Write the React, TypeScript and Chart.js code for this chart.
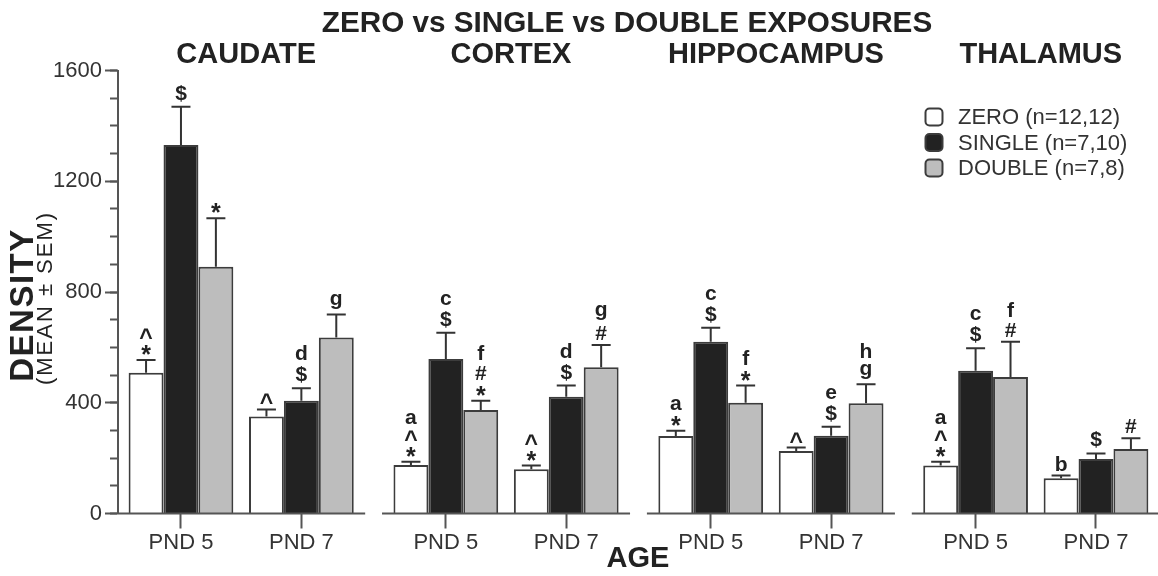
import React, { useEffect, useRef } from 'react';
import { Chart, registerables } from 'chart.js';

Chart.register(...registerables);

const FONT = "'Liberation Sans', Arial, Helvetica, sans-serif";

// ---------- data ----------
const chartTitle = 'ZERO vs SINGLE vs DOUBLE EXPOSURES';
const regions = ['CAUDATE', 'CORTEX', 'HIPPOCAMPUS', 'THALAMUS'];
const ages = ['PND 5', 'PND 7'];
const seriesLabels = ['ZERO (n=12,12)', 'SINGLE (n=7,10)', 'DOUBLE (n=7,8)'];
const yTitle = 'DENSITY';
const ySubTitle = '(MEAN \u00B1 SEM)';
const xTitle = 'AGE';

// order: caudate P5, caudate P7, cortex P5, cortex P7, hippocampus P5, hippocampus P7, thalamus P5, thalamus P7
const zeroMeans = [508, 350, 175, 160, 280, 226, 173, 127];
const zeroSem = [46, 26, 12, 13, 19, 12, 14, 10];
const singleMeans = [1331, 407, 558, 422, 620, 281, 516, 197];
const singleSem = [138, 45, 95, 40, 51, 32, 81, 20];
const doubleMeans = [891, 636, 374, 528, 400, 398, 493, 233];
const doubleSem = [175, 83, 33, 81, 62, 69, 127, 39];

// significance marks, listed from the bottom up
const zeroMarks = [['*', '^'], ['^'], ['*', '^', 'a'], ['*', '^'], ['*', 'a'], ['^'], ['*', '^', 'a'], ['b']];
const singleMarks = [['$'], ['$', 'd'], ['$', 'c'], ['$', 'd'], ['$', 'c'], ['$', 'e'], ['$', 'c'], ['$']];
const doubleMarks = [['*'], ['g'], ['*', '#', 'f'], ['#', 'g'], ['*', 'f'], ['g', 'h'], ['#', 'f'], ['#']];

const yMajorStep = 400;
const yMinorStep = 100;
const yMax = 1600;

// ---------- styling / layout ----------
const COLORS = ['#ffffff', '#222222', '#bdbdbd'];
const OUTLINE = '#3c3c3c';
const AXIS = '#555555';
const TEXT = '#222222';
const PANEL_STEP = 2.2;
const xPositions = regions.flatMap((_, p) => ages.map((_, g) => p * PANEL_STEP + g));

const semSets = [zeroSem, singleSem, doubleSem];
const markSets = [zeroMarks, singleMarks, doubleMarks];
const markSize = (s: string) => (s === '*' ? 25 : s === '^' ? 23 : 21);

const decorPlugin = {
  id: 'decor',
  afterDatasetsDraw(chart: any) {
    const { ctx, chartArea } = chart;
    const x = chart.scales.x;
    const y = chart.scales.y;
    const y0 = y.getPixelForValue(0);
    ctx.save();
    // broken baseline, one segment per panel
    ctx.strokeStyle = AXIS;
    ctx.lineWidth = 2;
    regions.forEach((_, p) => {
      const start = p === 0 ? chartArea.left : x.getPixelForValue(p * PANEL_STEP - 0.53);
      const end = x.getPixelForValue(p * PANEL_STEP + 1.53);
      ctx.beginPath();
      ctx.moveTo(start, y0);
      ctx.lineTo(end, y0);
      ctx.stroke();
    });
    // error bars and marks
    chart.data.datasets.forEach((ds: any, i: number) => {
      const meta = chart.getDatasetMeta(i);
      meta.data.forEach((bar: any, j: number) => {
        const v = ds.data[j].y;
        const topPx = y.getPixelForValue(v + semSets[i][j]);
        ctx.strokeStyle = '#333';
        ctx.lineWidth = 2;
        ctx.beginPath();
        ctx.moveTo(bar.x, bar.y);
        ctx.lineTo(bar.x, topPx);
        ctx.moveTo(bar.x - 9.5, topPx);
        ctx.lineTo(bar.x + 9.5, topPx);
        ctx.stroke();
        ctx.fillStyle = TEXT;
        ctx.textAlign = 'center';
        ctx.textBaseline = 'alphabetic';
        let bottom = topPx - 5;
        markSets[i][j].forEach((s: string) => {
          ctx.font = `bold ${markSize(s)}px ${FONT}`;
          const m = ctx.measureText(s);
          const base = bottom - m.actualBoundingBoxDescent;
          ctx.fillText(s, bar.x, base);
          bottom = base - m.actualBoundingBoxAscent - 6;
        });
      });
    });
    ctx.restore();
  },
  afterDraw(chart: any) {
    const { ctx, chartArea } = chart;
    const x = chart.scales.x;
    ctx.save();
    ctx.fillStyle = TEXT;
    ctx.textAlign = 'center';
    ctx.textBaseline = 'alphabetic';
    ctx.font = `bold 29.7px ${FONT}`;
    ctx.fillText(chartTitle, (chartArea.left + chartArea.right) / 2 - 11, 32);
    ctx.font = `bold 29px ${FONT}`;
    regions.forEach((r, p) => {
      const c = x.getPixelForValue(p * PANEL_STEP + 0.5);
      ctx.fillText(r, c + 5, 63);
    });
    // y titles
    ctx.save();
    ctx.translate(24, 305);
    ctx.rotate(-Math.PI / 2);
    ctx.textBaseline = 'middle';
    ctx.font = `bold 33px ${FONT}`;
    (ctx as any).letterSpacing = '1.5px';
    ctx.fillText(yTitle, 0, 0);
    ctx.restore();
    ctx.save();
    ctx.translate(46, 298);
    ctx.rotate(-Math.PI / 2);
    ctx.textBaseline = 'middle';
    ctx.font = `22px ${FONT}`;
    (ctx as any).letterSpacing = '2px';
    ctx.fillText(ySubTitle, 0, 0);
    ctx.restore();
    // legend
    ctx.textAlign = 'left';
    ctx.textBaseline = 'middle';
    ctx.font = `22px ${FONT}`;
    chart.data.datasets.forEach((ds: any, i: number) => {
      const cy = 117 + i * 25.5;
      ctx.beginPath();
      (ctx as any).roundRect(925.5, cy - 8.5, 17, 17, 4);
      ctx.fillStyle = ds.backgroundColor;
      ctx.fill();
      ctx.strokeStyle = OUTLINE;
      ctx.lineWidth = 2;
      ctx.stroke();
      ctx.fillStyle = '#333';
      ctx.fillText(ds.label, 958, cy + 1);
    });
    ctx.restore();
  },
};

export default function App() {
  const ref = useRef<HTMLCanvasElement>(null);
  useEffect(() => {
    if (!ref.current) return;
    const datasets = [zeroMeans, singleMeans, doubleMeans].map((means, i) => ({
      label: seriesLabels[i],
      data: means.map((v, j) => ({ x: xPositions[j], y: v })),
      backgroundColor: COLORS[i],
      borderColor: OUTLINE,
      borderWidth: 2,
      categoryPercentage: 0.87,
      barPercentage: 1,
    }));
    const chart = new Chart(ref.current, {
      type: 'bar',
      data: { datasets },
      plugins: [decorPlugin],
      options: {
        responsive: false,
        animation: false,
        events: [],
        layout: { padding: { top: 70.5, left: 0, right: 0, bottom: 0 } },
        plugins: { legend: { display: false }, tooltip: { enabled: false }, title: { display: false } },
        scales: {
          x: {
            type: 'linear',
            min: -0.523,
            max: 8.115,
            offset: false,
            afterBuildTicks: (s: any) => {
              s.ticks = xPositions.map((v) => ({ value: v }));
            },
            afterFit: (s: any) => {
              s.height = 62.5;
            },
            ticks: {
              autoSkip: false,
              maxRotation: 0,
              padding: 1,
              color: '#333',
              font: { family: FONT, size: 22 },
              callback: (_v: any, i: number) => ages[i % ages.length],
            },
            grid: {
              offset: false,
              drawOnChartArea: false,
              drawTicks: true,
              tickLength: 15,
              tickColor: AXIS,
              tickWidth: 2,
            },
            border: { display: false },
            title: {
              display: true,
              text: xTitle,
              color: TEXT,
              font: { family: FONT, size: 29, weight: 'bold' },
              padding: { top: 0, bottom: 0 },
            },
          },
          y: {
            type: 'linear',
            position: 'left',
            weight: 1,
            min: 0,
            max: yMax,
            afterFit: (s: any) => {
              s.width = 118;
            },
            ticks: {
              stepSize: yMajorStep,
              padding: 3,
              color: '#333',
              font: { family: FONT, size: 22 },
              callback: (v: any) => String(v),
            },
            grid: {
              drawOnChartArea: false,
              drawTicks: true,
              tickLength: 13,
              tickColor: AXIS,
              tickWidth: 2,
            },
            border: { display: true, color: AXIS, width: 2 },
          },
          yMinor: {
            type: 'linear',
            position: 'left',
            weight: 0,
            min: 0,
            max: yMax,
            afterFit: (s: any) => {
              s.width = 0;
            },
            ticks: { stepSize: yMinorStep, display: false, maxTicksLimit: 40 },
            grid: {
              drawOnChartArea: false,
              drawTicks: true,
              tickLength: 8,
              tickColor: AXIS,
              tickWidth: 2,
            },
            border: { display: false },
          },
        },
      } as any,
    });
    return () => chart.destroy();
  }, []);
  return (
    <div style={{ position: 'fixed', left: 0, top: 0, width: 1158, height: 576, background: '#fff' }}>
      <canvas ref={ref} width={1158} height={576} style={{ display: 'block' }} />
    </div>
  );
}
